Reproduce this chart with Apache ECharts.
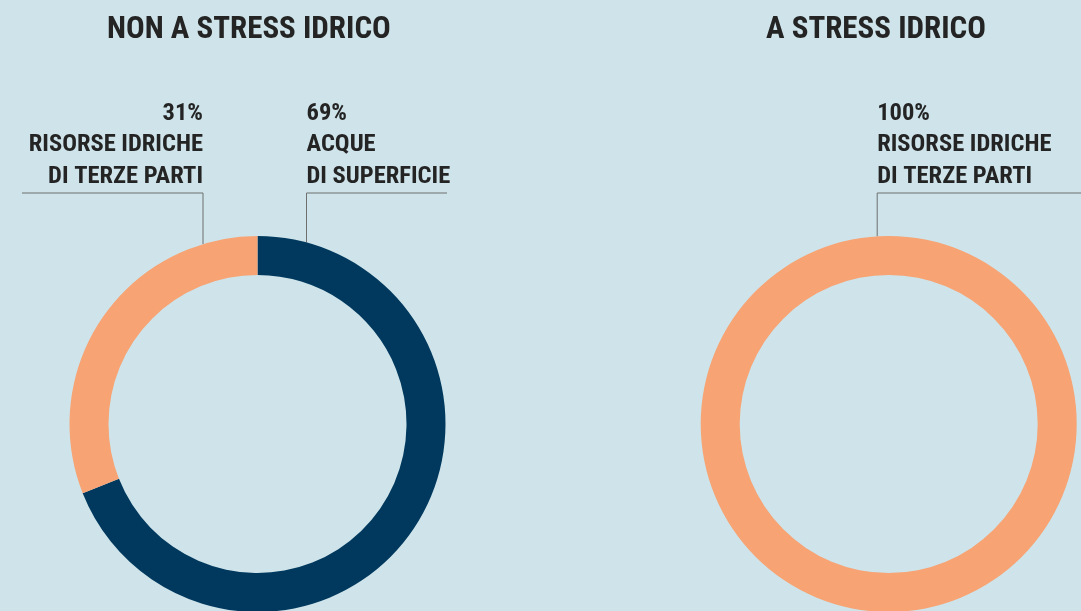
<!DOCTYPE html>
<html>
<head>
<meta charset="utf-8">
<title>Stress idrico</title>
<script src="https://cdn.jsdelivr.net/npm/echarts@6.0.0/dist/echarts.min.js"></script>
<style>
  html, body { margin: 0; padding: 0; background: #cee4ea; }
  #chart { width: 1081px; height: 611px; }
</style>
</head>
<body>
<div id="chart"></div>
<script>
// titles of the two donuts
var titles = ['NON A STRESS IDRICO', 'A STRESS IDRICO']

// left donut: areas not under water stress
var leftNames = ['ACQUE\nDI SUPERFICIE', 'RISORSE IDRICHE\nDI TERZE PARTI']
var leftValues = [69, 31]
var leftColors = ['#01395e', '#f7a373']

// right donut: areas under water stress
var rightNames = ['RISORSE IDRICHE\nDI TERZE PARTI']
var rightValues = [100]
var rightColors = ['#f7a373']

var FONT = "'Liberation Sans Narrow', 'Roboto Condensed', 'DejaVu Sans Condensed', sans-serif"
var TEXT = '#242424'
var R_IN = 149
var R_OUT = 188
var CY = 424
var centers = [257.5, 888.7]
var LINE_Y = 193

// where each leader line meets the ring (x offset from centre), where the
// horizontal part ends and how the text is aligned
var labelSpots = [
  [{ dx: 49, end: 447, align: 'left' }, { dx: -54.5, end: 22, align: 'right' }],
  [{ dx: -11.5, end: 1081, align: 'left' }]
]

var chart = echarts.init(document.getElementById('chart'), null, { renderer: 'canvas' })

function donut(names, values, colors, idx) {
  return {
    type: 'pie',
    center: [centers[idx], CY],
    radius: [R_IN, R_OUT],
    startAngle: 90,
    clockwise: true,
    silent: true,
    animation: false,
    avoidLabelOverlap: false,
    data: names.map(function(n, i) {
      return { name: n, value: values[i], itemStyle: { color: colors[i] } }
    }),
    label: {
      show: true,
      position: 'outside',
      formatter: '{c}%\n{b}',
      fontFamily: FONT,
      fontWeight: 'bold',
      fontSize: 24.5,
      lineHeight: 31.5,
      color: TEXT,
      padding: 0
    },
    labelLine: {
      show: true,
      smooth: false,
      lineStyle: { color: '#6f6f6f', width: 1 }
    },
    labelLayout: function(params) {
      var spot = labelSpots[idx][params.dataIndex]
      var cx = centers[idx]
      var x = cx + spot.dx
      var yRing = CY - Math.sqrt(R_OUT * R_OUT - spot.dx * spot.dx)
      return {
        x: x,
        y: LINE_Y - 0.5,
        align: spot.align,
        verticalAlign: 'bottom',
        labelLinePoints: [[x, yRing], [x, LINE_Y], [spot.end, LINE_Y]]
      }
    }
  }
}

chart.setOption({
  backgroundColor: '#cee4ea',
  animation: false,
  title: [
    {
      text: titles[0],
      left: 107,
      top: 15,
      padding: 0,
      textStyle: { fontFamily: FONT, fontWeight: 'bold', fontSize: 31, color: TEXT }
    },
    {
      text: titles[1],
      left: 766,
      top: 15,
      padding: 0,
      textStyle: { fontFamily: FONT, fontWeight: 'bold', fontSize: 31, color: TEXT }
    }
  ],
  series: [
    donut(leftNames, leftValues, leftColors, 0),
    donut(rightNames, rightValues, rightColors, 1)
  ]
})
</script>
</body>
</html>
